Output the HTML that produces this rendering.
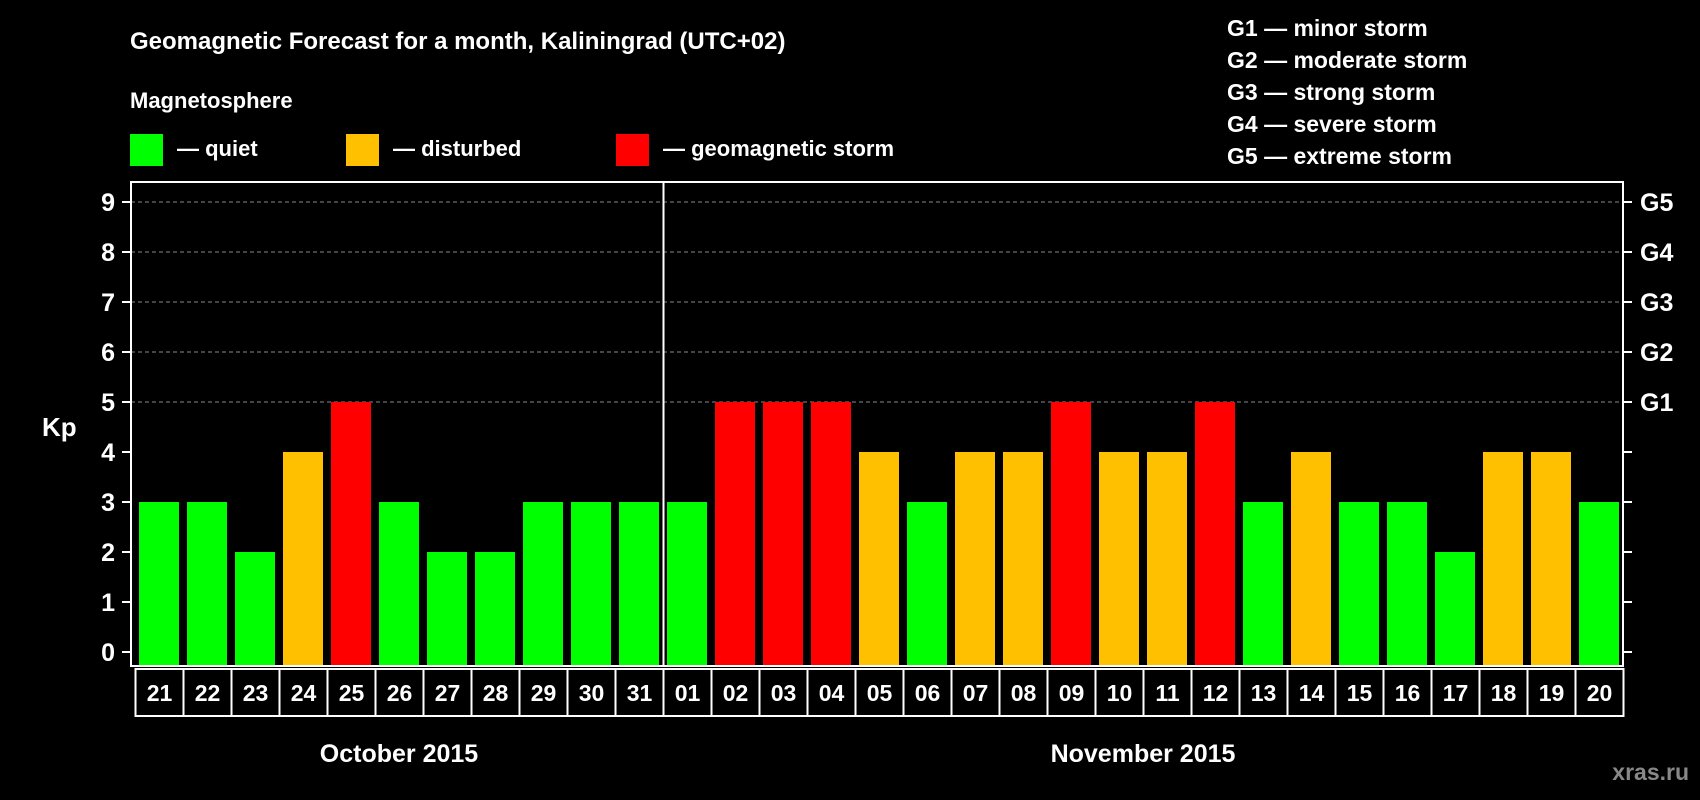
<!DOCTYPE html>
<html><head><meta charset="utf-8"><style>
body{margin:0;background:#000;width:1700px;height:800px;overflow:hidden}
svg{display:block;font-family:"Liberation Sans",Arial,sans-serif;font-weight:bold}
</style></head><body>
<svg id="chart" width="1700" height="800">
<rect width="1700" height="800" fill="#000"/>
<text x="130" y="49" fill="#fff" font-size="24">Geomagnetic Forecast for a month, Kaliningrad (UTC+02)</text>
<text x="130" y="108" fill="#fff" font-size="22">Magnetosphere</text>
<g><rect x="130" y="134" width="33" height="32" fill="#00ff00"/><text x="177" y="156" fill="#fff" font-size="22">— quiet</text></g>
<g><rect x="346" y="134" width="33" height="32" fill="#ffc000"/><text x="393" y="156" fill="#fff" font-size="22">— disturbed</text></g>
<g><rect x="616" y="134" width="33" height="32" fill="#ff0000"/><text x="663" y="156" fill="#fff" font-size="22">— geomagnetic storm</text></g>
<g fill="#fff" font-size="23">
<text x="1227" y="36">G1 — minor storm</text>
<text x="1227" y="68">G2 — moderate storm</text>
<text x="1227" y="100">G3 — strong storm</text>
<text x="1227" y="132">G4 — severe storm</text>
<text x="1227" y="164">G5 — extreme storm</text>
</g>
<text x="42" y="436" fill="#fff" font-size="26">Kp</text>
<g id="grid"></g><g id="bars"></g><g id="axes"></g><g id="labels"></g>
<text x="399" y="762" fill="#fff" font-size="25" text-anchor="middle">October 2015</text>
<text x="1143" y="762" fill="#fff" font-size="25" text-anchor="middle">November 2015</text>
<text x="1689" y="780" fill="#888" font-size="23" text-anchor="end">xras.ru</text>
</svg>
<script>
const days=["21","22","23","24","25","26","27","28","29","30","31","01","02","03","04","05","06","07","08","09","10","11","12","13","14","15","16","17","18","19","20"];
const kpValues=[3,3,2,4,5,3,2,2,3,3,3,3,5,5,5,4,3,4,4,5,4,4,5,3,4,3,3,2,4,4,3];
const yTicks=[0,1,2,3,4,5,6,7,8,9];
const gLabels=["G1","G2","G3","G4","G5"];
const NS="http://www.w3.org/2000/svg";
const L=131,R=1623,T=182,B=666,X0=135.5,P=48;
function y(v){return 652-50*v;}
function x(i){return X0+i*P;}
function mk(t,a,parent){const e=document.createElementNS(NS,t);for(const k in a)e.setAttribute(k,a[k]);document.getElementById(parent).appendChild(e);return e;}
for(let v=5;v<=9;v++){
 const g=mk("line",{x1:L,x2:R,y1:y(v),y2:y(v),stroke:"#888","stroke-width":1,"stroke-dasharray":"4,3"},"grid");
 
 
}
kpValues.forEach((v,i)=>{
 const c=v>=5?"#ff0000":v>=4?"#ffc000":"#00ff00";
 const r=mk("rect",{x:x(i)+3.5,y:y(v),width:40,height:B-y(v),fill:c},"bars");
 
 
 const b=mk("rect",{x:x(i),y:669,width:P,height:47,fill:"none",stroke:"#fff","stroke-width":2},"labels");
 
 
 const t=mk("text",{x:x(i)+P/2,y:701,fill:"#fff","font-size":23,"text-anchor":"middle"},"labels");
 t.textContent=days[i];
 
 
});
const fr=mk("rect",{x:L,y:T,width:R-L,height:B-T,fill:"none",stroke:"#fff","stroke-width":2},"axes");


const sep=mk("line",{x1:x(11),x2:x(11),y1:T,y2:B,stroke:"#fff","stroke-width":2},"axes");


yTicks.forEach(v=>{
 mk("line",{x1:L-9,x2:L,y1:y(v),y2:y(v),stroke:"#fff","stroke-width":2},"axes");
 mk("line",{x1:R,x2:R+9,y1:y(v),y2:y(v),stroke:"#fff","stroke-width":2},"axes");
 const t=mk("text",{x:115,y:y(v)+9,fill:"#fff","font-size":25,"text-anchor":"end"},"axes");
 t.textContent=v;
 
 
});
gLabels.forEach((g,i)=>{
 const t=mk("text",{x:1640,y:y(5+i)+9,fill:"#fff","font-size":25},"axes");
 t.textContent=g;
 
 
});
</script>
</body></html>
